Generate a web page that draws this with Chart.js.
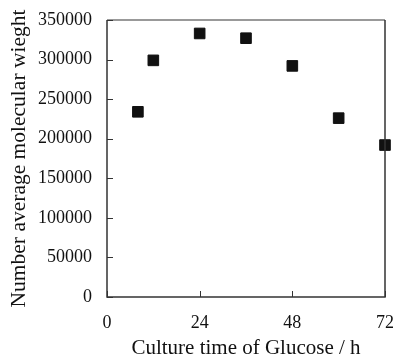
<!DOCTYPE html>
<html>
<head>
<meta charset="utf-8">
<script src="https://cdn.jsdelivr.net/npm/chart.js@4"></script>
<style>
  html, body { margin: 0; padding: 0; background: #fff; }
  #wrap { width: 396px; height: 355px; }
</style>
</head>
<body>
<div id="wrap"><canvas id="ScatterChart" width="396" height="355"></canvas></div>
<script>
// culture time (h) and number average molecular weight
const hours = [8, 12, 24, 36, 48, 60, 72];
const mn = [234000, 299000, 333000, 327000, 292000, 226000, 192000];
const xTicks = [0, 24, 48, 72];
const yTicks = [0, 50000, 100000, 150000, 200000, 250000, 300000, 350000];

document.addEventListener("DOMContentLoaded", function () {
  const ctx = document.getElementById("ScatterChart").getContext("2d");
  const font = "'Liberation Serif', 'Times New Roman', serif";

  // box around plot + inward tick marks
  const frame = {
    id: "frame",
    afterDraw(chart) {
      const c = chart.ctx;
      const a = chart.chartArea;
      const xs = chart.scales.x;
      const ys = chart.scales.y;
      c.save();
      c.lineWidth = 1.5;
      // top edge is a lighter grey in the original
      c.strokeStyle = "#777";
      c.beginPath();
      c.moveTo(a.left, a.top);
      c.lineTo(a.right, a.top);
      c.stroke();
      c.strokeStyle = "#333";
      c.beginPath();
      c.moveTo(a.right, a.top);
      c.lineTo(a.right, a.bottom);
      c.lineTo(a.left, a.bottom);
      c.lineTo(a.left, a.top);
      c.stroke();
      c.lineWidth = 1;
      c.beginPath();
      yTicks.forEach(function (v) {
        const py = Math.round(ys.getPixelForValue(v)) + 0.5;
        c.moveTo(a.left, py);
        c.lineTo(a.left + 6, py);
      });
      xTicks.forEach(function (v) {
        const px = Math.round(xs.getPixelForValue(v)) + 0.5;
        c.moveTo(px, a.bottom);
        c.lineTo(px, a.bottom - 6);
      });
      c.stroke();
      c.restore();
    },
  };

  // tick label gap is done with tickLength (grid hidden) so it does not pad the other sides
  const chart = new Chart(ctx, {
    type: "scatter",
    data: {
      datasets: [
        {
          data: hours.map(function (h, i) { return { x: h, y: mn[i] }; }),
          pointStyle: "rect",
          pointRadius: 7.5,
          pointHoverRadius: 7.5,
          backgroundColor: "#111",
          borderColor: "#111",
          borderWidth: 1,
          clip: false,
        },
      ],
    },
    options: {
      responsive: false,
      animation: false,
      layout: { autoPadding: false, padding: { top: 20, right: 11, left: 0, bottom: 0 } },
      plugins: {
        legend: { display: false },
        tooltip: { enabled: false },
      },
      scales: {
        x: {
          type: "linear",
          min: 0,
          max: 72,
          afterBuildTicks: function (s) { s.ticks = xTicks.map(function (v) { return { value: v }; }); },
          grid: { display: false, drawTicks: true, tickLength: 17 },
          border: { display: false },
          ticks: { color: "#111", font: { family: font, size: 18, lineHeight: 1 }, padding: 0, maxRotation: 0 },
          title: {
            display: true,
            text: "Culture time of Glucose / h",
            color: "#111",
            font: { family: font, size: 21, lineHeight: 1 },
            padding: { top: 5.5, bottom: -3.5 },
          },
        },
        y: {
          min: 0,
          max: 350000,
          afterBuildTicks: function (s) { s.ticks = yTicks.map(function (v) { return { value: v }; }); },
          grid: { display: false, drawTicks: true, tickLength: 15 },
          border: { display: false },
          ticks: {
            color: "#111",
            font: { family: font, size: 18 },
            padding: 0,
            callback: function (v) { return String(v); },
          },
          title: {
            display: true,
            text: "Number average molecular wieght",
            color: "#111",
            font: { family: font, size: 21.5, lineHeight: 1 },
            padding: { top: 8.75, bottom: 7.75 },
          },
        },
      },
    },
    plugins: [frame],
  });
});
</script>
</body>
</html>
